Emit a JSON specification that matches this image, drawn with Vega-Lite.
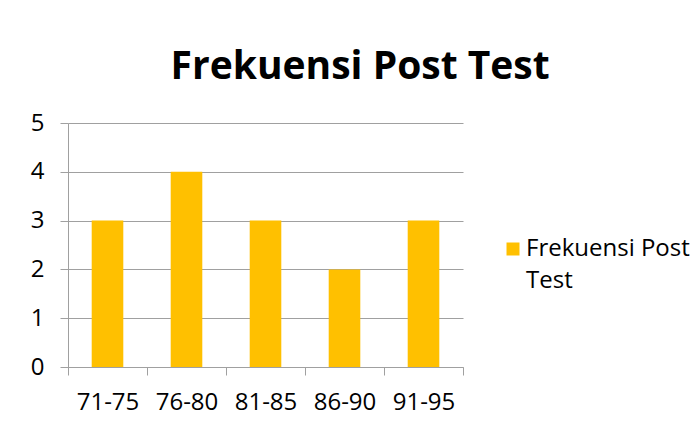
{
  "$schema": "https://vega.github.io/schema/vega-lite/v6.json",
  "width": 395,
  "height": 244,
  "autosize": {"type": "pad"},
  "padding": {"left": 30, "top": 48, "right": 2, "bottom": 2},
  "background": "white",
  "title": {
    "text": "Frekuensi Post Test",
    "font": "Open Sans",
    "fontSize": 39,
    "fontWeight": "bold",
    "color": "#000000",
    "anchor": "middle",
    "frame": "bounds",
    "offset": 24
  },
  "data": {
    "values": [
      {"range": "71-75", "count": 3, "series": "Frekuensi Post Test"},
      {"range": "76-80", "count": 4, "series": "Frekuensi Post Test"},
      {"range": "81-85", "count": 3, "series": "Frekuensi Post Test"},
      {"range": "86-90", "count": 2, "series": "Frekuensi Post Test"},
      {"range": "91-95", "count": 3, "series": "Frekuensi Post Test"}
    ]
  },
  "mark": {"type": "bar", "width": {"band": 0.4}},
  "encoding": {
    "x": {
      "field": "range",
      "type": "nominal",
      "sort": null,
      "scale": {"paddingInner": 0, "paddingOuter": 0},
      "axis": {
        "title": null,
        "labelAngle": 0,
        "tickBand": "extent",
        "grid": false,
        "labelFont": "Open Sans",
        "labelFontSize": 24,
        "labelColor": "#000000",
        "labelPadding": 15,
        "tickSize": 8,
        "tickColor": "#A0A0A0",
        "domainColor": "#A0A0A0"
      }
    },
    "y": {
      "field": "count",
      "type": "quantitative",
      "scale": {"domain": [0, 5]},
      "axis": {
        "title": null,
        "values": [0, 1, 2, 3, 4, 5],
        "format": "d",
        "grid": true,
        "gridColor": "#A0A0A0",
        "labelFont": "Open Sans",
        "labelFontSize": 24,
        "labelColor": "#000000",
        "labelPadding": 16,
        "tickSize": 8,
        "tickColor": "#A0A0A0",
        "domainColor": "#A0A0A0"
      }
    },
    "color": {
      "field": "series",
      "type": "nominal",
      "scale": {"range": ["#FFC000"]},
      "legend": {
        "title": null,
        "orient": "none",
        "legendX": 433,
        "legendY": 114,
        "symbolType": "square",
        "symbolSize": 169,
        "symbolStrokeWidth": 0,
        "labelOffset": 1,
        "labelFont": "Open Sans",
        "labelFontSize": 24,
        "labelColor": "#000000",
        "labelLimit": 300,
        "labelExpr": "['Frekuensi Post', 'Test']"
      }
    }
  },
  "config": {
    "view": {"stroke": null},
    "style": {"guide-label": {"lineHeight": 32}}
  }
}
